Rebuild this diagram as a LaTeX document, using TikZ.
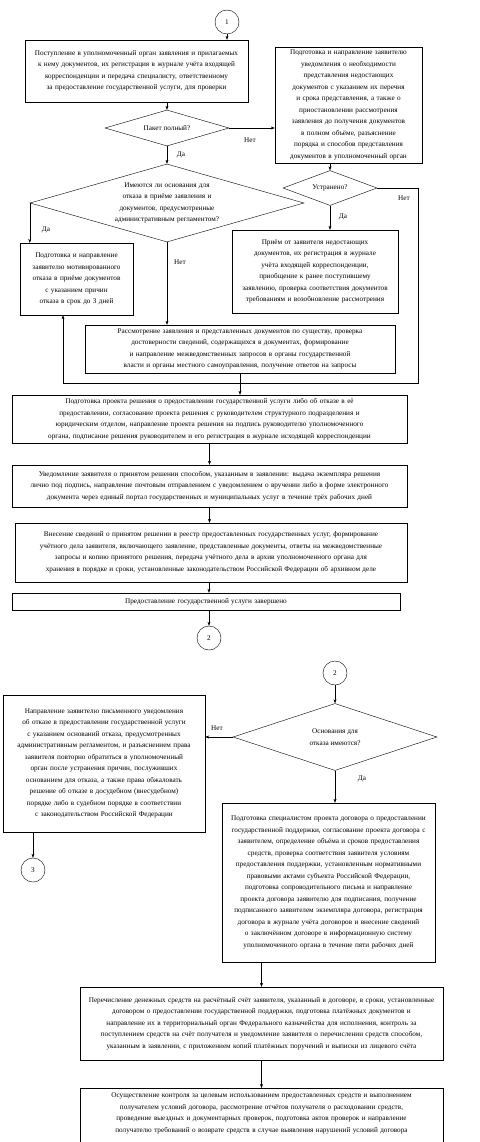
\documentclass[tikz,border=0pt]{standalone}
\usepackage{fontspec}
\setmainfont{Liberation Serif}
\usetikzlibrary{arrows.meta,shapes.geometric}

\begin{document}
\begin{tikzpicture}[x=1pt,y=-1pt,
    font=\fontsize{7.2}{11.5}\selectfont,
    blok/.style={draw,rectangle,align=center,inner sep=1pt},
    romb/.style={draw,diamond,align=center,inner sep=0pt},
    krug/.style={draw,circle,inner sep=0pt,minimum size=24pt},
    strelka/.style={-{Stealth[length=4pt,width=3pt]}},
    metka/.style={inner sep=1pt}]
    \path[use as bounding box] (0,0) rectangle (479,1142);
    \clip (0,0) rectangle (479,1142);

                \node[krug] (k1) at (227,22) {1};
                \node[blok,minimum width=223pt,minimum height=62pt,text width=205pt] (b1) at (136.5,71) {Поступление в уполномоченный орган заявления и прилагаемых к нему документов, их регистрация в журнале учёта входящей корреспонденции и передача специалисту, ответственному за предоставление государственной услуги, для проверки};
                \node[romb,minimum width=124pt,minimum height=36pt,aspect=3.4] (r1) at (167,128) {Пакет полный?};
                \node[blok,minimum width=147pt,minimum height=116pt,text width=130pt] (b2) at (348.5,105) {Подготовка и направление заявителю уведомления о необходимости представления недостающих документов с указанием их перечня и срока представления, а также о приостановлении рассмотрения заявления до получения документов в полном объёме, разъяснение порядка и способов представления документов в уполномоченный орган};
                \node[romb,minimum width=274pt,minimum height=78pt,aspect=3.5,text width=112pt] (r2) at (167,203) {Имеются ли основания для отказа в приёме заявления и документов, предусмотренные административным регламентом?};
                \node[romb,minimum width=94pt,minimum height=35pt,aspect=2.7] (r3) at (330,188) {Устранено?};
                \node[blok,minimum width=113pt,minimum height=72pt,text width=95pt] (bL) at (76.5,279) {Подготовка и направление заявителю мотивированного отказа в приёме документов с указанием причин отказа в срок до 3 дней};
                \node[blok,minimum width=166pt,minimum height=83pt,text width=150pt] (bR2) at (315,271.5) {Приём от заявителя недостающих документов, их регистрация в журнале учёта входящей корреспонденции, приобщение к ранее поступившему заявлению, проверка соответствия документов требованиям и возобновление рассмотрения};
                \node[blok,minimum width=310pt,minimum height=48pt,text width=285pt] (bM) at (240,349) {Рассмотрение заявления и представленных документов по существу, проверка достоверности сведений, содержащихся в документах, формирование и направление межведомственных запросов в органы государственной власти и органы местного самоуправления, получение ответов на запросы};
                \node[blok,minimum width=395pt,minimum height=48pt,text width=380pt] (bA) at (209.5,419) {Подготовка проекта решения о предоставлении государственной услуги либо об отказе в её предоставлении, согласование проекта решения с руководителем структурного подразделения и юридическим отделом, направление проекта решения на подпись руководителю уполномоченного органа, подписание решения руководителем и его регистрация в журнале исходящей корреспонденции};
                \node[blok,minimum width=395pt,minimum height=42pt,text width=380pt] (bB) at (209.5,486) {Уведомление заявителя о принятом решении способом, указанным в заявлении: выдача экземпляра решения лично под подпись, направление почтовым отправлением с уведомлением о вручении либо в форме электронного документа через единый портал государственных и муниципальных услуг в течение трёх рабочих дней};
                \node[blok,minimum width=392pt,minimum height=59pt,text width=362pt] (bC) at (211,552.5) {Внесение сведений о принятом решении в реестр предоставленных государственных услуг, формирование учётного дела заявителя, включающего заявление, представленные документы, ответы на межведомственные запросы и копию принятого решения, передача учётного дела в архив уполномоченного органа для хранения в порядке и сроки, установленные законодательством Российской Федерации об архивном деле};
                \node[blok,minimum width=388pt,minimum height=17pt,text width=370pt] (bD) at (206,601.5) {Предоставление государственной услуги завершено};
                \node[krug] (k2) at (209,638) {2};

                \node[krug] (k3) at (335,673) {2};
                \node[romb,minimum width=204pt,minimum height=67pt,aspect=3] (r4) at (335,737) {Основания для\\ отказа имеются?};
                \node[blok,minimum width=202pt,minimum height=137pt,text width=188pt] (bL2) at (104,763.5) {Направление заявителю письменного уведомления об отказе в предоставлении государственной услуги с указанием оснований отказа, предусмотренных административным регламентом, и разъяснением права заявителя повторно обратиться в уполномоченный орган после устранения причин, послуживших основанием для отказа, а также права обжаловать решение об отказе в досудебном (внесудебном) порядке либо в судебном порядке в соответствии с законодательством Российской Федерации};
                \node[krug] (k4) at (33,870) {3};
                \node[blok,minimum width=213pt,minimum height=159pt,text width=200pt] (bR3) at (328.5,882.5) {Подготовка специалистом проекта договора о предоставлении государственной поддержки, согласование проекта договора с заявителем, определение объёма и сроков предоставления средств, проверка соответствия заявителя условиям предоставления поддержки, установленным нормативными правовыми актами субъекта Российской Федерации, подготовка сопроводительного письма и направление проекта договора заявителю для подписания, получение подписанного заявителем экземпляра договора, регистрация договора в журнале учёта договоров и внесение сведений о заключённом договоре в информационную систему уполномоченного органа в течение пяти рабочих дней};
                \node[blok,minimum width=363pt,minimum height=73pt,text width=350pt] (bE) at (261.5,1023.5) {Перечисление денежных средств на расчётный счёт заявителя, указанный в договоре, в сроки, установленные договором о предоставлении государственной поддержки, подготовка платёжных документов и направление их в территориальный орган Федерального казначейства для исполнения, контроль за поступлением средств на счёт получателя и уведомление заявителя о перечислении средств способом, указанным в заявлении, с приложением копий платёжных поручений и выписки из лицевого счёта};
                \node[blok,minimum width=363pt,minimum height=72pt,text width=350pt,anchor=north] (bF) at (261.5,1088) {Осуществление контроля за целевым использованием предоставленных средств и выполнением получателем условий договора, рассмотрение отчётов получателя о расходовании средств, проведение выездных и документарных проверок, подготовка актов проверок и направление получателю требований о возврате средств в случае выявления нарушений условий договора\\ \mbox{}\\ \mbox{}};

                \coordinate (ugol1) at (418,383);
                \coordinate (ugol2) at (63,383);

                \draw[strelka](k1.south)--(k1.south|-b1.north);
                \draw[strelka](r1.north|-b1.south)--(r1.north);
                \draw[strelka](r1.east)--(r1.east-|b2.west);
                \draw[strelka](r1.south)--(r2.north);
                \draw[strelka](r3.north|-b2.south)--(r3.north);
                \draw[strelka](r2.west)--(r2.west|-bL.north);
                \draw[strelka](r2.south)--(r2.south|-bM.north);
                \draw[strelka](r3.south)--(r3.south|-bR2.north);
                \draw[strelka](r3.east)-|(ugol1)--(ugol2)--(ugol2|-bL.south);
                \draw[strelka](bM.south)--(bM.south|-bA.north);
                \draw[strelka](bA.south)--(bA.south|-bB.north);
                \draw[strelka](bB.south)--(bB.south|-bC.north);
                \draw[strelka](k2.north|-bC.south)--(k2.north|-bD.north);
                \draw[strelka](k2.north|-bD.south)--(k2.north);

                \draw[strelka](k3.south)--(r4.north);
                \draw[strelka](r4.west)--(r4.west-|bL2.east);
                \draw[strelka](k4.north|-bL2.south)--(k4.north);
                \draw[strelka](r4.south)--(r4.south|-bR3.north);
                \draw[strelka](bE.north|-bR3.south)--(bE.north);
                \draw[strelka](bE.south)--(bF.north);

                \node[metka] (m1) at (250,140) {Нет};
                \node[metka] (m2) at (181,155) {Да};
                \node[metka] (m3) at (46,230) {Да};
                \node[metka] (m4) at (180,262) {Нет};
                \node[metka] (m5) at (404,198) {Нет};
                \node[metka] (m6) at (343,217) {Да};
                \node[metka] (m7) at (217,728) {Нет};
                \node[metka] (m8) at (362,779) {Да};
\end{tikzpicture}
\end{document}
